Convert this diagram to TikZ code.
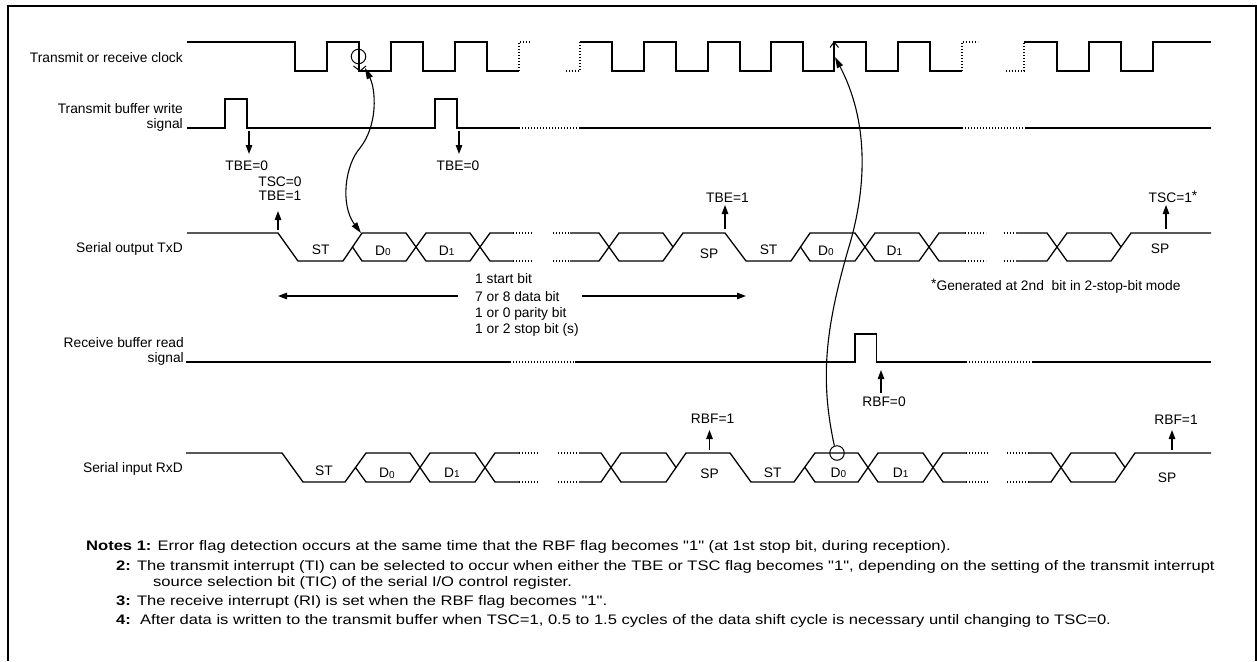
\documentclass[tikz,border=0pt]{standalone}
\usepackage{fontspec}
\setmainfont{Liberation Sans}
\newfontfamily\notesfont[FakeStretch=1.2]{Liberation Sans}
\usetikzlibrary{arrows.meta}
\newcommand\Dsub[1]{D\raisebox{-0.6pt}{\fontsize{10}{10}\selectfont #1}}
\begin{document}
\begin{tikzpicture}[x=1pt,y=-1pt,
  sigline/.style={line width=1.3pt},
  dotline/.style={line width=1.3pt, dash pattern=on 1.2pt off 1.8pt},
  flagarrow/.style={line width=1.2pt,-{Triangle[length=9pt,width=6.5pt]}},
  curvearrow/.style={line width=1.1pt,-{Triangle[length=11pt,width=6.5pt]}},
  curvedbl/.style={line width=1.1pt,{Triangle[length=11pt,width=6.5pt]}-{Triangle[length=11pt,width=6.5pt]}},
  txtlbl/.style={font=\fontsize{13.8}{16.5}\selectfont, inner sep=0pt, anchor=base},
  sidelbl/.style={txtlbl, anchor=base east},
  notelbl/.style={txtlbl, anchor=base west},
  notetxt/.style={notelbl, font=\notesfont\fontsize{13.8}{16.5}\selectfont},
  ring/.style={circle, draw, line width=1pt, minimum size=14.5pt, inner sep=0pt}]
\useasboundingbox (0,0) rectangle (1257,661);
% frame
\draw[line width=1.5pt] (8,661) -- (8,6) -- (1256,6) -- (1256,661);

% side labels
\node[sidelbl] (lclk) at (183,63) {Transmit or receive clock};
\node[sidelbl] (ltbw1) at (183,113) {Transmit buffer write};
\node[sidelbl] (ltbw2) at (183,128.5) {signal};
\node[sidelbl] (ltxd) at (183,252) {Serial output TxD};
\node[sidelbl] (lrbr1) at (184,347) {Receive buffer read};
\node[sidelbl] (lrbr2) at (184,362.5) {signal};
\node[sidelbl] (lrxd) at (183,472) {Serial input RxD};

% clock
\draw[sigline] (187,42) -- (295,42) -- (295,71) -- (327,71) -- (327,42) -- (359,42) -- (359,71) -- (391,71) -- (391,42) -- (423,42) -- (423,71) -- (455,71) -- (455,42) -- (487,42) -- (487,71) -- (519,71);
\draw[dotline] (519,71) -- (519,42) -- (530,42);
\draw[dotline] (566,71) -- (580,71) -- (580,42);
\draw[sigline] (580,42) -- (612,42) -- (612,71) -- (644,71) -- (644,42) -- (676,42) -- (676,71) -- (708,71) -- (708,42) -- (740,42) -- (740,71) -- (771,71) -- (771,42) -- (803,42) -- (803,71) -- (834,71) -- (834,42) -- (866,42) -- (866,71) -- (898,71) -- (898,42) -- (930,42) -- (930,71) -- (962,71);
\draw[dotline] (962,71) -- (962,42) -- (978,42);
\draw[dotline] (1006,71) -- (1024,71) -- (1024,42);
\draw[sigline] (1024,42) -- (1057,42) -- (1057,71) -- (1089,71) -- (1089,42) -- (1121,42) -- (1121,71) -- (1153,71) -- (1153,42) -- (1211,42);
% edge marks
\draw[line width=1pt] (353.5,66) -- (360,71) -- (366,66);
\draw[line width=1pt] (830,47.5) -- (834,42) -- (838.5,47.5);

% transmit buffer write
\draw[sigline] (187,128) -- (225,128) -- (225,99) -- (247,99) -- (247,128) -- (435,128) -- (435,99) -- (457,99) -- (457,128) -- (519,128);
\draw[dotline] (519,128) -- (579,128);
\draw[sigline] (579,128) -- (962,128);
\draw[dotline] (962,128) -- (1025,128);
\draw[sigline] (1025,128) -- (1211,128);

% TBE=0 flags
\coordinate (w1) at (249,131);
\coordinate (w1t) at (249,154);
\coordinate (w2) at (459,131);
\coordinate (w2t) at (459,154);
\draw[flagarrow] (w1) -- (w1t);
\draw[flagarrow] (w2) -- (w2t);
\node[txtlbl] (tbe0a) at (246.7,170) {TBE=0};
\node[txtlbl] (tbe0b) at (458,170) {TBE=0};
\node[txtlbl] (tsc0) at (280,186.7) {TSC=0};
\node[txtlbl] (tbe1a) at (280,200) {TBE=1};
\coordinate (s1) at (278,230);
\coordinate (s1t) at (278,211);
\draw[flagarrow] (s1) -- (s1t);

% TxD
\draw[sigline] (187,233) -- (278,233) -- (298,261) -- (343,261) -- (362,233) -- (406,233) -- (426,261) -- (470,261) -- (490,233) -- (513,233);
\draw[sigline] (352.5,247) -- (362,261) -- (406,261) -- (426,233) -- (470,233) -- (490,261) -- (513,261);
\draw[dotline] (513,233) -- (533,233);
\draw[dotline] (513,261) -- (533,261);
\draw[dotline] (553,233) -- (570,233);
\draw[dotline] (553,261) -- (570,261);
\draw[sigline] (570,233) -- (599,233) -- (619,261) -- (663,261) -- (683,233) -- (725,233) -- (746,261) -- (791,261) -- (810,233) -- (855,233) -- (875,261) -- (919,261) -- (939,233) -- (965,233);
\draw[sigline] (570,261) -- (599,261) -- (619,233) -- (663,233) -- (673,247);
\draw[sigline] (800.5,247) -- (810,261) -- (855,261) -- (875,233) -- (919,233) -- (939,261) -- (965,261);
\draw[dotline] (965,233) -- (986,233);
\draw[dotline] (965,261) -- (986,261);
\draw[dotline] (1004,233) -- (1016,233);
\draw[dotline] (1004,261) -- (1016,261);
\draw[sigline] (1016,233) -- (1047,233) -- (1067,261) -- (1111,261) -- (1131,233) -- (1211,233);
\draw[sigline] (1016,261) -- (1047,261) -- (1067,233) -- (1111,233) -- (1121,247);

\node[txtlbl] (tst1) at (320.7,254) {ST};
\node[txtlbl] (td0a) at (383,255) {\Dsub{0}};
\node[txtlbl] (td1a) at (446.7,255) {\Dsub{1}};
\node[txtlbl] (tsp1) at (709,258) {SP};
\node[txtlbl] (tst2) at (768.6,254) {ST};
\node[txtlbl] (td0b) at (826,255) {\Dsub{0}};
\node[txtlbl] (td1b) at (894.4,255) {\Dsub{1}};
\node[txtlbl] (tsp2) at (1160,253) {SP};

\coordinate (s2) at (725,229);
\coordinate (s2t) at (725,205);
\draw[flagarrow] (s2) -- (s2t);
\node[txtlbl] (tbe1b) at (727.5,202) {TBE=1};
\coordinate (s3) at (1166,229);
\coordinate (s3t) at (1166,205);
\draw[flagarrow] (s3) -- (s3t);
\node[txtlbl] (tsc1) at (1173,202) {TSC=1\raisebox{2pt}{*}};
\node[notelbl] (gen) at (931,290) {\raisebox{2pt}{*}Generated at 2nd\ \ bit in 2-stop-bit mode};

% frame length
\node[notelbl] (bit1) at (475,283) {1 start bit};
\node[notelbl] (bit2) at (475,301) {7 or 8 data bit};
\node[notelbl] (bit3) at (475,317) {1 or 0 parity bit};
\node[notelbl] (bit4) at (475,333) {1 or 2 stop bit (s)};
\coordinate (bl) at (278,296);
\coordinate (bla) at (458,296);
\coordinate (br) at (746,296);
\coordinate (bra) at (582,296);
\draw[flagarrow] (bla) -- (bl);
\draw[flagarrow] (bra) -- (br);

% receive buffer read
\draw[sigline] (186,362) -- (510,362);
\draw[dotline] (510,362) -- (575,362);
\draw[sigline] (575,362) -- (855,362) -- (855,334) -- (876.5,334) -- (876.5,362) -- (966,362);
\draw[dotline] (966,362) -- (1033,362);
\draw[sigline] (1033,362) -- (1211,362);
\coordinate (r0) at (881,393);
\coordinate (r0t) at (881,370);
\draw[flagarrow] (r0) -- (r0t);
\node[txtlbl] (rbf0) at (884,406.7) {RBF=0};

% RxD
\draw[sigline] (186,453) -- (282,453) -- (303,482) -- (345,482) -- (366,453) -- (410,453) -- (430,482) -- (475,482) -- (495,453) -- (519,453);
\draw[sigline] (355.5,467.5) -- (366,482) -- (410,482) -- (430,453) -- (475,453) -- (495,482) -- (519,482);
\draw[dotline] (519,453) -- (538,453);
\draw[dotline] (519,482) -- (538,482);
\draw[dotline] (558,453) -- (579,453);
\draw[dotline] (558,482) -- (579,482);
\draw[sigline] (579,453) -- (601,453) -- (621,482) -- (666,482) -- (686,453) -- (730,453) -- (751,482) -- (794,482) -- (815,453) -- (858,453) -- (878,482) -- (923,482) -- (943,453) -- (966,453);
\draw[sigline] (579,482) -- (601,482) -- (621,453) -- (666,453) -- (676,467.5);
\draw[sigline] (805,467.5) -- (815,482) -- (858,482) -- (878,453) -- (923,453) -- (943,482) -- (966,482);
\draw[dotline] (966,453) -- (989.5,453);
\draw[dotline] (966,482) -- (989.5,482);
\draw[dotline] (1007,453) -- (1029,453);
\draw[dotline] (1007,482) -- (1029,482);
\draw[sigline] (1029,453) -- (1051,453) -- (1071,482) -- (1115,482) -- (1135,453) -- (1211,453);
\draw[sigline] (1029,482) -- (1051,482) -- (1071,453) -- (1115,453) -- (1125,467.5);

\node[txtlbl] (rst1) at (324,475) {ST};
\node[txtlbl] (rd0a) at (387,477.7) {\Dsub{0}};
\node[txtlbl] (rd1a) at (452,477) {\Dsub{1}};
\node[txtlbl] (rsp1) at (709.5,478) {SP};
\node[txtlbl] (rst2) at (772.8,477) {ST};
\node[txtlbl] (rd0b) at (838.5,477) {\Dsub{0}};
\node[txtlbl] (rd1b) at (900.7,477) {\Dsub{1}};
\node[txtlbl] (rsp2) at (1167,482) {SP};

\coordinate (q1) at (709.5,450);
\coordinate (q1t) at (709.5,430);
\draw[flagarrow] (q1) -- (q1t);
\node[txtlbl] (rbf1a) at (712.6,423) {RBF=1};
\coordinate (q2) at (1172,450);
\coordinate (q2t) at (1172,430);
\draw[flagarrow] (q2) -- (q2t);
\node[txtlbl] (rbf1b) at (1176,424) {RBF=1};

% circles and curved arrows
\node[ring] (c1) at (358.5,56.5) {};
\node[ring] (c2) at (837,453) {};
\coordinate (k1b) at (361,233);
\coordinate (k1t) at (365,68);
\draw[curvedbl] (k1b) .. controls (340,205) and (345,165) .. (360,148) .. controls (378,125) and (376,90) .. (k1t);
\coordinate (k2t) at (835,57);
\draw[curvearrow] (c2.110) .. controls (820,380) and (825,330) .. (848,250) .. controls (868,185) and (868,120) .. (k2t);

% notes
\node[notetxt] (n1) at (86,550) {\textbf{Notes 1:} Error flag detection occurs at the same time that the RBF flag becomes "1" (at 1st stop bit, during reception).};
\node[notetxt] (n2) at (116,570) {\textbf{2:} The transmit interrupt (TI) can be selected to occur when either the TBE or TSC flag becomes "1", depending on the setting of the transmit interrupt};
\node[notetxt] (n2b) at (153,586) {source selection bit (TIC) of the serial I/O control register.};
\node[notetxt] (n3) at (116,605) {\textbf{3:} The receive interrupt (RI) is set when the RBF flag becomes "1".};
\node[notetxt] (n4) at (116,624) {\textbf{4:}\ \ After data is written to the transmit buffer when TSC=1, 0.5 to 1.5 cycles of the data shift cycle is necessary until changing to TSC=0.};
\end{tikzpicture}
\end{document}
